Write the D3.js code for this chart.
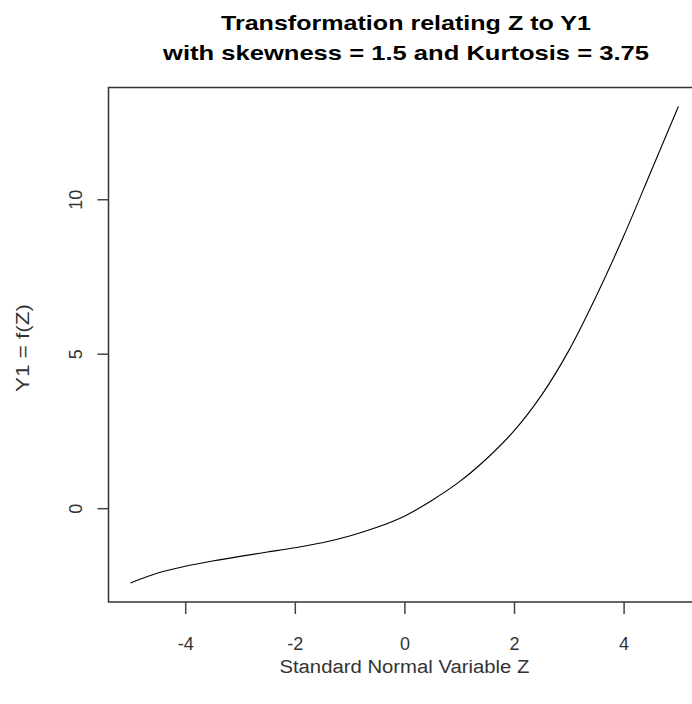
<!DOCTYPE html>
<html>
<head>
<meta charset="utf-8">
<script src="https://cdn.jsdelivr.net/npm/d3@7"></script>
<style>
  body { margin: 0; background: #fff; }
  text { font-family: "Liberation Sans", Arial, sans-serif; }
</style>
</head>
<body>
<svg id="chart"></svg>
<script>
const width = 692;
const height = 704;

// --- Data ---
const zValues = [-5, -4.5, -4, -3.5, -3, -2.5, -2, -1.5, -1, -0.5, 0, 0.5, 1, 1.5, 2, 2.5, 3, 3.5, 4, 4.5, 5];
const yValues = [-2.42, -2.10, -1.88, -1.71, -1.56, -1.42, -1.28, -1.12, -0.90, -0.62, -0.26, 0.25, 0.85, 1.60, 2.50, 3.65, 5.1, 6.86, 8.8, 10.9, 13.0];
const xTicks = [-4, -2, 0, 2, 4];
const yTicks = [0, 5, 10];
const titleLines = ["Transformation relating Z to Y1", "with skewness = 1.5 and Kurtosis = 3.75"];
const xLabel = "Standard Normal Variable Z";
const yLabel = "Y1 = f(Z)";

const data = zValues.map((z, i) => ({ z, y: yValues[i] }));

const svg = d3.select("#chart")
  .attr("width", width)
  .attr("height", height);

// plot region (right edge runs past the picture, as in the original)
const plotLeft = 108.5, plotRight = 700.3, plotTop = 87.5, plotBottom = 602;
const plotCx = (plotLeft + plotRight) / 2;

// R style 4% padding on each side
const pad = (ext) => { const r = ext[1] - ext[0]; return [ext[0] - 0.04 * r, ext[1] + 0.04 * r]; };

const x = d3.scaleLinear()
  .domain(pad(d3.extent(zValues)))
  .range([plotLeft, plotRight]);

const y = d3.scaleLinear()
  .domain(pad(d3.extent(yValues)))
  .range([plotBottom, plotTop]);

// --- Curve ---
const line = d3.line()
  .x(d => x(d.z))
  .y(d => y(d.y))
  .curve(d3.curveCatmullRom.alpha(0.5));

svg.append("path")
  .datum(data)
  .attr("d", line)
  .attr("fill", "none")
  .attr("stroke", "#000")
  .attr("stroke-width", 1.1);

// --- Box ---
svg.append("rect")
  .attr("x", plotLeft)
  .attr("y", plotTop)
  .attr("width", plotRight - plotLeft)
  .attr("height", plotBottom - plotTop)
  .attr("fill", "none")
  .attr("stroke", "#333")
  .attr("stroke-width", 1.5);

// --- Axes ---
const fmt = d => String(d); // plain hyphen minus like R

const xAxis = svg.append("g")
  .attr("transform", `translate(0,${plotBottom})`)
  .call(d3.axisBottom(x).tickValues(xTicks).tickSize(12).tickFormat(fmt));

const yAxis = svg.append("g")
  .attr("transform", `translate(${plotLeft},0)`)
  .call(d3.axisLeft(y).tickValues(yTicks).tickSize(11).tickFormat(fmt));

[xAxis, yAxis].forEach(g => {
  g.select(".domain").remove();
  g.selectAll(".tick line").attr("stroke", "#444").attr("stroke-width", 1.5);
  g.selectAll(".tick text")
    .attr("fill", "#333")
    .attr("font-size", 18)
    .attr("font-family", "Liberation Sans, Arial, sans-serif");
});

xAxis.selectAll(".tick text").attr("y", 650 - plotBottom).attr("dy", null);

// rotated y tick labels (R las = 0)
yAxis.selectAll(".tick text")
  .attr("x", null)
  .attr("y", null)
  .attr("dy", null)
  .attr("text-anchor", "middle")
  .attr("transform", `translate(${82 - plotLeft},0) rotate(-90)`);

// --- Labels ---
svg.append("text")
  .attr("x", plotCx)
  .attr("y", 673)
  .attr("text-anchor", "middle")
  .attr("font-size", 18)
  .attr("fill", "#333")
  .attr("textLength", 250)
  .attr("lengthAdjust", "spacingAndGlyphs")
  .text(xLabel);

svg.append("text")
  .attr("transform", `translate(29,348) rotate(-90)`)
  .attr("text-anchor", "middle")
  .attr("font-size", 18)
  .attr("fill", "#333")
  .attr("textLength", 88)
  .attr("lengthAdjust", "spacingAndGlyphs")
  .text(yLabel);

const titleWidths = [370, 486];
svg.append("g")
  .selectAll("text")
  .data(titleLines)
  .join("text")
  .attr("x", 406)
  .attr("y", (d, i) => 29.5 + i * 30)
  .attr("text-anchor", "middle")
  .attr("font-size", 21)
  .attr("font-weight", "bold")
  .attr("fill", "#000")
  .attr("textLength", (d, i) => titleWidths[i])
  .attr("lengthAdjust", "spacingAndGlyphs")
  .text(d => d);
</script>
</body>
</html>
